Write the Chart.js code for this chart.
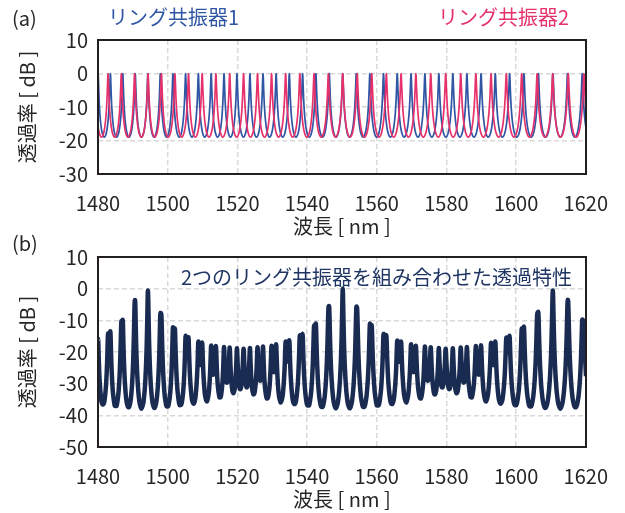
<!DOCTYPE html>
<html>
<head>
<meta charset="utf-8">
<script src="https://cdn.jsdelivr.net/npm/chart.js@4.4.0/dist/chart.umd.min.js"></script>
<style>
  body { margin: 0; background: #fff; width: 625px; height: 513px; overflow: hidden; position: relative; }
  canvas { position: absolute; left: 0; }
  #chartA { top: 0; }
  #chartB { top: 230px; }
  .frame { position: absolute; box-sizing: border-box; border: 2.5px solid #231f20; pointer-events: none; }
</style>
</head>
<body>
<canvas id="chartA" width="625" height="240"></canvas>
<canvas id="chartB" width="625" height="283"></canvas>
<script>
// resonance peak wavelengths [nm]
const ring1Peaks = [1476.53, 1480.03, 1483.56, 1487.12, 1490.69, 1494.30, 1497.88, 1501.50, 1505.14, 1508.80,
  1512.48, 1516.17, 1519.88, 1523.61, 1527.36, 1531.13, 1534.91, 1538.72, 1542.54, 1546.38, 1550.24, 1554.12,
  1558.02, 1561.94, 1565.88, 1569.84, 1573.82, 1577.82, 1581.84, 1585.88, 1589.94, 1594.03, 1598.13, 1602.25,
  1606.40, 1610.57, 1614.75, 1618.97, 1623.20];
const ring2Peaks = [1475.37, 1479.11, 1482.88, 1486.69, 1490.50, 1494.37, 1498.21, 1502.08, 1505.98, 1509.90,
  1513.84, 1517.80, 1521.78, 1525.78, 1529.81, 1533.85, 1537.92, 1542.00, 1546.11, 1550.24, 1554.40, 1558.57,
  1562.76, 1566.99, 1571.23, 1575.50, 1579.79, 1584.10, 1588.44, 1592.80, 1597.18, 1601.60, 1606.03, 1610.49,
  1614.97, 1619.47, 1624.01];

// shape of one resonance: distance from peak (fraction of peak spacing) -> transmission [dB]
const shapeOffset = [0, 0.01, 0.02, 0.035, 0.05, 0.075, 0.1, 0.14, 0.19, 0.26, 0.35, 0.5];
const shapeDb = [0, -0.32, -1.17, -2.89, -4.65, -7.22, -9.29, -11.82, -14.11, -16.30, -18.01, -19.0];

// tick labels
const wavelengthTicks = [1480, 1500, 1520, 1540, 1560, 1580, 1600, 1620];
const dbTicksA = [-30, -20, -10, 0, 10];
const dbTicksB = [-50, -40, -30, -20, -10, 0, 10];

const FONT = '"Noto Sans CJK JP", "Noto Sans", sans-serif';
Chart.defaults.font.family = FONT;
Chart.defaults.color = '#262626';

function resonanceCurve(peaks) {
  const pts = [];
  for (let i = 0; i < peaks.length - 1; i++) {
    const p = peaks[i], d = peaks[i + 1] - p;
    for (let j = 0; j < shapeOffset.length; j++) pts.push({ x: p + shapeOffset[j] * d, y: shapeDb[j] });
    for (let j = shapeOffset.length - 2; j > 0; j--) pts.push({ x: p + (1 - shapeOffset[j]) * d, y: shapeDb[j] });
  }
  pts.push({ x: peaks[peaks.length - 1], y: shapeDb[0] });
  return pts;
}

// level of one ring at wavelength x, looked up in its shape table
function levelAt(peaks, x) {
  let i = 0;
  while (i < peaks.length - 2 && peaks[i + 1] < x) i++;
  const p = peaks[i], q = peaks[i + 1];
  let g = (x - p) / (q - p);
  g = Math.max(0, Math.min(g, 1 - g));
  let k = 1;
  while (k < shapeOffset.length - 1 && shapeOffset[k] < g) k++;
  const t = (g - shapeOffset[k - 1]) / (shapeOffset[k] - shapeOffset[k - 1]);
  return shapeDb[k - 1] + t * (shapeDb[k] - shapeDb[k - 1]);
}

const ring1 = resonanceCurve(ring1Peaks);
const ring2 = resonanceCurve(ring2Peaks);

// panel (b): both rings in series, dB values add up
const xs = ring1.concat(ring2).map(p => p.x).filter(x => x > 1478 && x < 1622).sort((a, b) => a - b);
const combined = [];
xs.forEach(x => {
  if (combined.length && x - combined[combined.length - 1].x < 0.005) return;
  combined.push({ x: x, y: levelAt(ring1Peaks, x) + levelAt(ring2Peaks, x) });
});

// free texts drawn on the canvas
const decorations = {
  id: 'decorations',
  afterDraw(chart, args, opts) {
    const ctx = chart.ctx;
    ctx.save();
    ctx.font = '20px ' + FONT;
    ctx.textBaseline = 'middle';
    ctx.textAlign = 'left';
    opts.labels.forEach(lb => {
      ctx.fillStyle = lb.color;
      ctx.fillText(lb.text, lb.x, lb.y);
    });
    ctx.restore();
  }
};

function makeChart(id, datasets, dbTicks, padTop, labels) {
  const canvas = document.getElementById(id);
  const chart = new Chart(canvas, {
    type: 'line',
    data: { datasets: datasets },
    options: {
      responsive: false,
      animation: false,
      events: [],
      layout: { padding: { left: 0, right: 34, top: padTop, bottom: 0 } },
      elements: { point: { radius: 0 } },
      plugins: { legend: { display: false }, tooltip: { enabled: false }, decorations: { labels: labels } },
      scales: {
        x: {
          type: 'linear',
          min: wavelengthTicks[0],
          max: wavelengthTicks[wavelengthTicks.length - 1],
          afterBuildTicks: s => { s.ticks = wavelengthTicks.map(v => ({ value: v })); },
          afterFit: s => { s.height = 66; },
          ticks: { font: { size: 20 }, padding: 17, maxRotation: 0, color: '#262626', callback: v => String(v) },
          grid: { color: '#d9d9d9', lineWidth: 1.5, drawTicks: false },
          border: { display: false, dash: [5, 3] },
          title: { display: true, text: '波長 [ nm ]', font: { size: 20, lineHeight: 1.2 }, padding: { top: 0, bottom: 2 }, color: '#262626' }
        },
        y: {
          min: dbTicks[0],
          max: dbTicks[dbTicks.length - 1],
          afterBuildTicks: s => { s.ticks = dbTicks.map(v => ({ value: v })); },
          afterFit: s => { s.width = 98; },
          ticks: { font: { size: 20 }, padding: 10, color: '#262626', callback: v => String(v) },
          grid: { color: '#d9d9d9', lineWidth: 1.5, drawTicks: false },
          border: { display: false, dash: [5, 3] },
          title: { display: true, text: '透過率 [ dB ]', font: { size: 20, lineHeight: 1.2 }, padding: { top: 15, bottom: 0 }, color: '#262626' }
        }
      }
    },
    plugins: [decorations]
  });

  // plot frame as an overlay around the chart area
  const a = chart.chartArea;
  const w = 2.5;
  const frame = document.createElement('div');
  frame.className = 'frame';
  frame.style.left = (a.left - w / 2) + 'px';
  frame.style.top = (canvas.offsetTop + a.top - w / 2) + 'px';
  frame.style.width = (a.right - a.left + w) + 'px';
  frame.style.height = (a.bottom - a.top + w) + 'px';
  document.body.appendChild(frame);
  return chart;
}

makeChart('chartA', [
  { data: ring2, borderColor: '#e6316b', borderWidth: 1.7, cubicInterpolationMode: 'monotone', fill: false },
  { data: ring1, borderColor: '#2f55a4', borderWidth: 1.7, cubicInterpolationMode: 'monotone', fill: false }
], dbTicksA, 40, [
  { text: '(a)', x: 12, y: 18, color: '#262626' },
  { text: 'リング共振器1', x: 108, y: 17, color: '#2f55a4' },
  { text: 'リング共振器2', x: 438, y: 17, color: '#e6316b' }
]);

makeChart('chartB', [
  { data: combined, borderColor: '#1a2b52', borderWidth: 4.5, cubicInterpolationMode: 'monotone', fill: false }
], dbTicksB, 27, [
  { text: '(b)', x: 12, y: 13, color: '#262626' },
  { text: '2つのリング共振器を組み合わせた透過特性', x: 181, y: 47, color: '#1f3563' }
]);
</script>
</body>
</html>
